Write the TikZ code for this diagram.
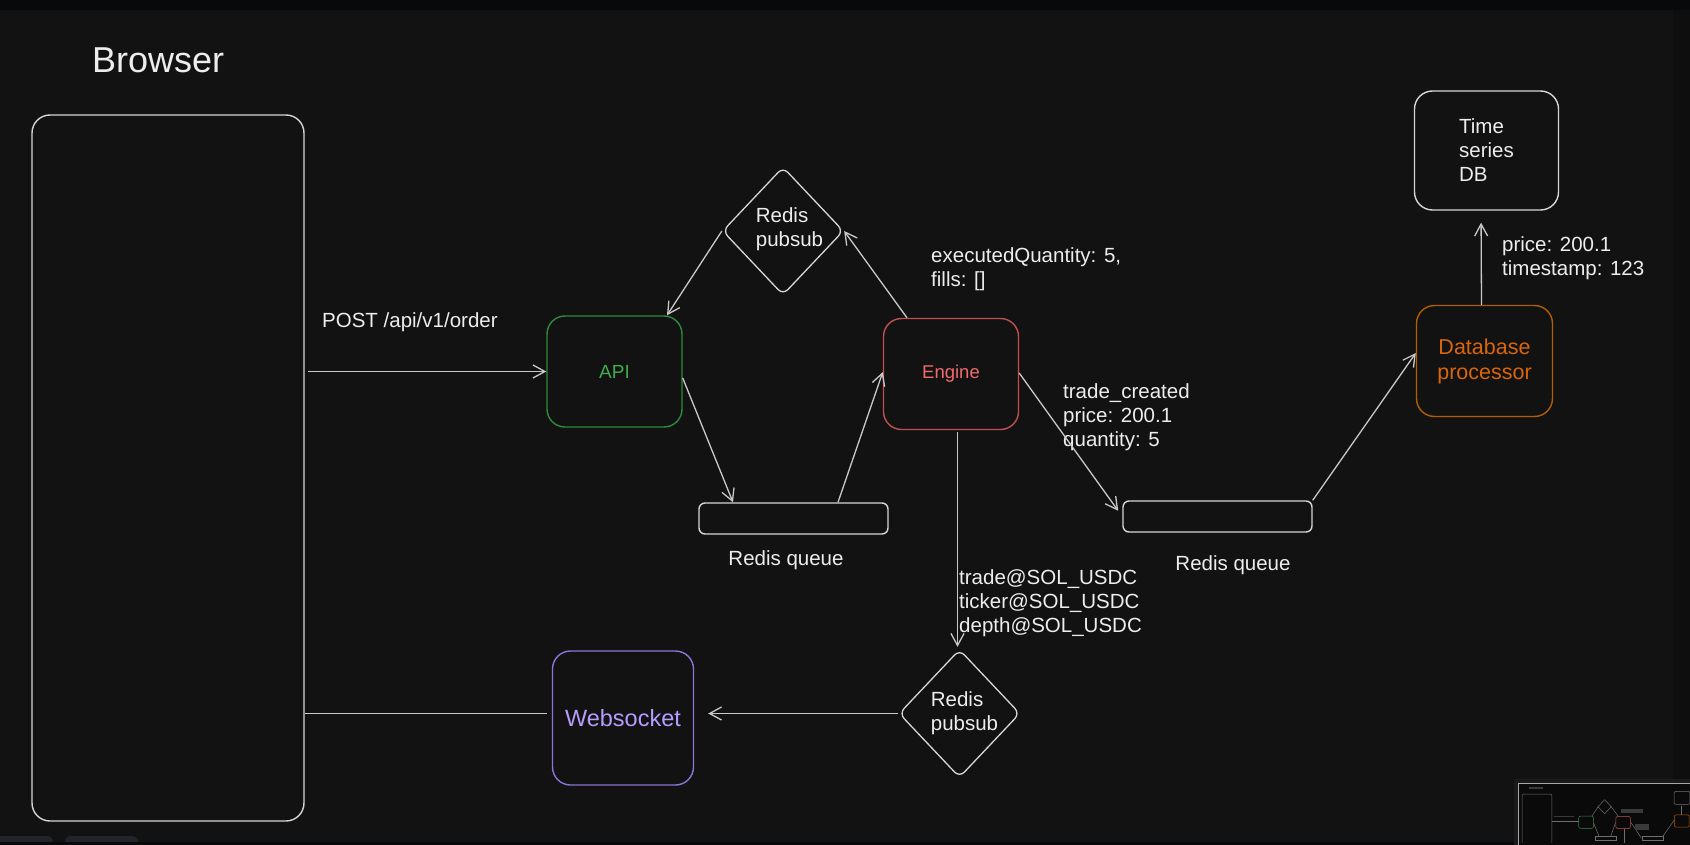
\documentclass[tikz,border=0pt]{standalone}
\usepackage{fontspec}
\setmainfont{Liberation Sans}
\usetikzlibrary{arrows.meta,shapes.geometric,calc}
\definecolor{bgc}{HTML}{121212}
\definecolor{topbarc}{HTML}{08090B}
\definecolor{sidec}{HTML}{0E0E0F}
\definecolor{strokec}{HTML}{D6D6D6}
\definecolor{arrowc}{HTML}{C9C9C9}
\definecolor{textc}{HTML}{EDEDED}
\definecolor{greenb}{HTML}{2E8B3E}
\definecolor{greent}{HTML}{40AC50}
\definecolor{redb}{HTML}{C0504F}
\definecolor{redt}{HTML}{F06B6B}
\definecolor{orangeb}{HTML}{B35C00}
\definecolor{oranget}{HTML}{D9650C}
\definecolor{purpleb}{HTML}{8C74D9}
\definecolor{purplet}{HTML}{B69CFF}
\definecolor{uibtn}{HTML}{232329}
\definecolor{minibg}{HTML}{0A0A0B}
\definecolor{miniframe}{HTML}{A8A8A8}
\definecolor{minipanel}{HTML}{1A1A1C}
\definecolor{minil}{HTML}{6E6E6E}
\definecolor{minit}{HTML}{3A3A3C}
\begin{document}
\begin{tikzpicture}[x=1pt,y=-1pt,
  box/.style={draw=strokec, rounded corners=18pt, line width=1.4pt, inner sep=0pt},
  qbox/.style={draw=strokec, rounded corners=6pt, line width=1.4pt, inner sep=0pt, minimum width=189pt, minimum height=31pt},
  dia/.style={diamond, draw=strokec, line width=1.3pt, minimum width=121pt, minimum height=128pt, inner sep=0pt, rounded corners=7pt},
  txt/.style={text=textc, font=\fontsize{20.5}{24}\selectfont, inner sep=0pt},
  arr/.style={draw=arrowc, line width=1.3pt, -{Straight Barb[length=12pt,width=13pt,line width=1.3pt]}},
  plain/.style={draw=arrowc, line width=1.3pt}
]
\useasboundingbox (0,0) rectangle (1690,845);
\fill[bgc] (0,0) rectangle (1690,845);
\fill[topbarc] (0,0) rectangle (1690,10);
\fill[sidec] (1673,10) rectangle (1690,845);

% title
\node[txt, anchor=west, font=\fontsize{36}{40}\selectfont] (title) at (92,60) {Browser};

% boxes
\node[box, minimum width=272pt, minimum height=706pt] (browser) at (168,468) {};
\node[box, draw=greenb, minimum width=135pt, minimum height=111pt, text=greent, font=\fontsize{19}{22}\selectfont] (api) at (614.5,371.5) {API};
\node[box, draw=redb, minimum width=135pt, minimum height=111pt, text=redt, font=\fontsize{18.5}{22}\selectfont] (eng) at (951,374) {Engine};
\node[box, draw=orangeb, minimum width=136pt, minimum height=111pt, text=oranget, align=center, font=\fontsize{21.5}{25}\selectfont] (dbp) at (1484.5,361) {Database\\processor};
\node[box, minimum width=144pt, minimum height=119pt, text=textc, align=left, font=\fontsize{20.5}{24}\selectfont] (tsdb) at (1486.5,150.5) {Time\\series\\DB};
\node[box, draw=purpleb, minimum width=141pt, minimum height=134pt, text=purplet, font=\fontsize{23.5}{26}\selectfont] (ws) at (623,718) {Websocket};

% queues
\node[qbox] (q1) at (793.5,518.5) {};
\node[qbox] (q2) at (1217.5,516.5) {};
\node[txt] (q1lbl) at (786,560) {Redis queue};
\node[txt] (q2lbl) at (1233,565) {Redis queue};

% diamonds
\node[dia] (pubT) at (783,231) {};
\node[txt, align=left] (pubTtxt) at (789.5,229) {Redis\\pubsub};
\node[dia] (pubB) at (959.5,713.5) {};
\node[txt, align=left] (pubBtxt) at (964.5,713) {Redis\\pubsub};

% labels
\node[txt, anchor=west] (postlbl) at (322,322) {POST /api/v1/order};
\node[txt, anchor=west, align=left] (execlbl) at (931,269.5) {executedQuantity: 5,\\fills: []};
\node[txt, anchor=west, align=left] (tradelbl) at (1063,417) {trade\_created\\price: 200.1\\quantity: 5};
\node[txt, anchor=west, align=left] (tslbl) at (1502,258.5) {price: 200.1\\timestamp: 123};
\node[txt, anchor=west, align=left] (chlbl) at (959,603.5) {trade@SOL\_USDC\\ticker@SOL\_USDC\\depth@SOL\_USDC};

% connectors
\draw[arr, shorten <=3pt] (browser.east |- api.west) -- (api.west);
\draw[arr] (pubT.west) -- ($(api.north)+(52.5,0)$);
\draw[arr] ($(eng.north)+(-44,0)$) -- (pubT.east);
\draw[arr] ($(api.east)+(0,6.5)$) -- ($(q1.north)+(-60.5,0)$);
\draw[arr] ($(q1.north)+(44.5,0)$) -- ($(eng.west)+(0,-2)$);
\draw[arr, shorten >=7pt] ($(eng.east)+(0,-1)$) -- (q2.west);
\draw[arr] (q2.north east) -- ($(dbp.west)+(0,-8)$);
\draw[arr, shorten >=12pt] ($(dbp.north)+(-3,0)$) -- ($(tsdb.south)+(-5.5,0)$);
\draw[arr, shorten <=2pt, shorten >=2pt] ($(pubB.north |- eng.south)+(-2,0)$) -- ($(pubB.north)+(-2,0)$);
\draw[arr, shorten >=14pt] (pubB.west) -- (ws.east |- pubB.west);
\draw[plain, shorten <=5pt] (ws.west |- pubB.west) -- (browser.east |- pubB.west);

% UI chrome: bottom-left buttons
\fill[uibtn, rounded corners=6pt] (-10,836) rectangle (53,860);
\fill[uibtn, rounded corners=6pt] (65,836) rectangle (138,860);
\fill[topbarc] (0,842) rectangle (1690,845);

% minimap
\fill[minipanel] (1514,779) rectangle (1690,845);
\fill[minibg] (1518,783) rectangle (1690,845);
\draw[miniframe, line width=0.8pt] (1518,845) -- (1518,783) -- (1690,783);
\begin{scope}
\clip (1519,784) rectangle (1690,842);
\begin{scope}[shift={(1518.5,781.35)}, scale=0.11]
  \draw[minil, line width=0.5pt, rounded corners=2pt] (32,115) rectangle (304,821);
  \draw[greenb, line width=0.5pt, rounded corners=2pt] (547,316) rectangle (682,427);
  \draw[redb, line width=0.5pt, rounded corners=2pt] (884,319) rectangle (1018,429);
  \draw[orangeb, line width=0.5pt, rounded corners=2pt] (1416,305) rectangle (1552,416);
  \draw[minil, line width=0.5pt, rounded corners=2pt] (1414,91) rectangle (1558,210);
  \draw[purpleb, line width=0.5pt, rounded corners=2pt] (553,651) rectangle (693,785);
  \draw[minil, line width=0.5pt] (699,503) rectangle (888,534);
  \draw[minil, line width=0.5pt] (1123,501) rectangle (1312,532);
  \draw[minil, line width=0.5pt] (783,167) -- (843,231) -- (783,295) -- (723,231) -- cycle;
  \draw[minil, line width=0.5pt] (959.5,650) -- (1020,714) -- (959.5,778) -- (899,714) -- cycle;
  \draw[minil, line width=0.5pt] (307,367) -- (549,367);
  \draw[minil, line width=0.5pt] (722,233) -- (667,315);
  \draw[minil, line width=0.5pt] (907,318) -- (843,231);
  \draw[minil, line width=0.5pt] (682,378) -- (733,502);
  \draw[minil, line width=0.5pt] (838,500) -- (883,372);
  \draw[minil, line width=0.5pt] (1022,373) -- (1116,515);
  \draw[minil, line width=0.5pt] (1311,501) -- (1415,353);
  \draw[minil, line width=0.5pt] (1481,304) -- (1481,222);
  \draw[minil, line width=0.5pt] (957,431) -- (957,647);
  \draw[minil, line width=0.5pt] (899,709) -- (708,709);
  \draw[minil, line width=0.5pt] (547,710) -- (304,710);
  \fill[minit] (93,52) rectangle (226,68);
  \fill[minit] (322,318) rectangle (508,326);
  \fill[minit] (931,255) rectangle (1132,285);
  \fill[minit] (1063,390) rectangle (1190,445);
  \fill[minit] (959,575) rectangle (1136,632);
\end{scope}
\end{scope}
\end{tikzpicture}
\end{document}
